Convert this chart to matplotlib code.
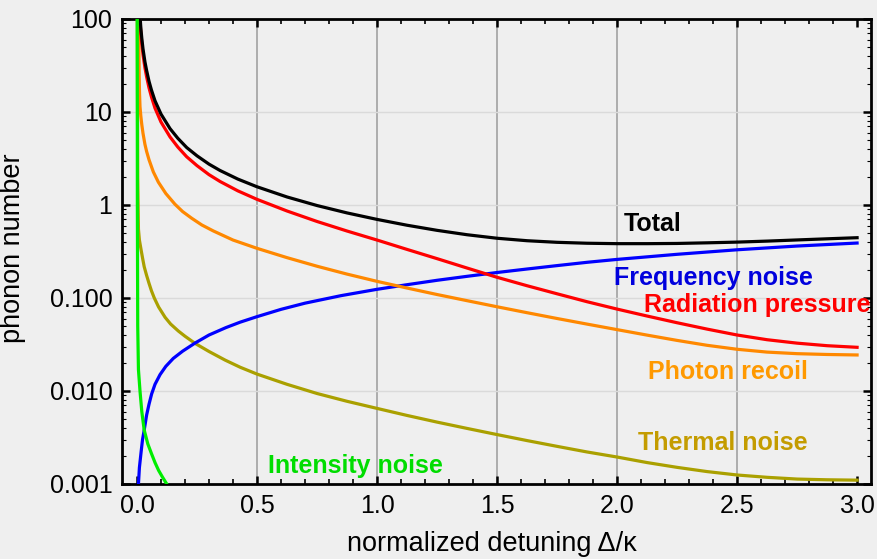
import numpy as np
import matplotlib
matplotlib.use('Agg')
import matplotlib.pyplot as plt
from matplotlib.ticker import FixedLocator, FixedFormatter, MultipleLocator, LogLocator, NullFormatter

plt.rcParams['font.family'] = ['Liberation Sans', 'DejaVu Sans']

# values (log y axis), x = detuning
x_total = [0.012, 0.0135, 0.016, 0.02, 0.025, 0.033, 0.04, 0.05, 0.06, 0.075, 0.1, 0.1375, 0.17,
           0.207, 0.25, 0.3, 0.346, 0.42, 0.5, 0.625, 0.75, 0.875, 1.0, 1.125, 1.25, 1.375, 1.5,
           1.625, 1.75, 1.875, 2.0, 2.125, 2.25, 2.375, 2.5, 2.625, 2.75, 2.875, 3.0]
y_total = [110, 100, 80, 62, 47.7, 34.7, 28, 21.4, 17.3, 13.2, 9.5, 6.63, 5.22,
           4.15, 3.38, 2.75, 2.35, 1.90, 1.57, 1.22, 0.987, 0.822, 0.70, 0.606, 0.534, 0.479, 0.439,
           0.413, 0.397, 0.388, 0.384, 0.384, 0.386, 0.392, 0.399, 0.409, 0.421, 0.433, 0.445]

x_radiation = [0.011, 0.0125, 0.016, 0.02, 0.025, 0.033, 0.04, 0.05, 0.06, 0.075, 0.1, 0.1375,
               0.17, 0.207, 0.25, 0.3, 0.346, 0.42, 0.5, 0.625, 0.75, 0.875, 1.0, 1.125, 1.25,
               1.375, 1.5, 1.625, 1.75, 1.875, 2.0, 2.125, 2.25, 2.375, 2.5, 2.625, 2.75, 2.875, 3.0]
y_radiation = [112, 96, 71, 54, 41.5, 30, 24, 18.2, 14.6, 11, 7.8, 5.4,
               4.2, 3.3, 2.65, 2.12, 1.79, 1.42, 1.15, 0.862, 0.665, 0.525, 0.42, 0.333, 0.265,
               0.210, 0.167, 0.1355, 0.111, 0.0912, 0.076, 0.064, 0.0542, 0.0463, 0.040, 0.0356,
               0.0327, 0.0307, 0.0295]

x_recoil = [0.006, 0.007, 0.008, 0.009, 0.0105, 0.0125, 0.016, 0.02, 0.025, 0.033, 0.04, 0.05,
            0.068, 0.089, 0.12, 0.158, 0.19, 0.228, 0.27, 0.318, 0.4, 0.5, 0.625, 0.75, 0.875,
            1.0, 1.125, 1.25, 1.375, 1.5, 1.625, 1.75, 1.875, 2.0, 2.125, 2.25, 2.375, 2.5,
            2.625, 2.75, 2.875, 3.0]
y_recoil = [130, 100, 45, 25, 16, 11.4, 9.0, 7.3, 5.9, 4.5, 3.77, 3.07,
            2.27, 1.76, 1.33, 1.02, 0.85, 0.72, 0.61, 0.526, 0.42, 0.342, 0.2716, 0.2196, 0.1807,
            0.151, 0.128, 0.109, 0.0936, 0.0805, 0.0695, 0.0602, 0.0524, 0.0457, 0.0399, 0.035,
            0.031, 0.0281, 0.0262, 0.0252, 0.0247, 0.0244]

x_frequency = [0.005, 0.006, 0.01, 0.017, 0.023, 0.030, 0.04, 0.05, 0.061, 0.075, 0.096, 0.12,
               0.151, 0.19, 0.242, 0.3, 0.37, 0.43, 0.5, 0.6, 0.7, 0.85, 1.0, 1.125, 1.25,
               1.375, 1.5, 1.625, 1.75, 1.875, 2.0, 2.25, 2.5, 2.75, 3.0]
y_frequency = [0.0008, 0.001, 0.0015, 0.0022, 0.003, 0.0038, 0.0055, 0.0072, 0.0093, 0.0118, 0.0150, 0.0184,
               0.0224, 0.0268, 0.0328, 0.040, 0.048, 0.055, 0.063, 0.0755, 0.088, 0.106, 0.124, 0.139, 0.155,
               0.171, 0.188, 0.205, 0.223, 0.242, 0.26, 0.295, 0.33, 0.362, 0.39]

x_thermal = [0.001, 0.003, 0.006, 0.01, 0.017, 0.023, 0.030, 0.04, 0.050, 0.06, 0.072, 0.09,
             0.117, 0.14, 0.172, 0.2, 0.242, 0.3, 0.367, 0.43, 0.5, 0.625, 0.75, 0.875, 1.0,
             1.125, 1.25, 1.375, 1.5, 1.625, 1.75, 1.875, 2.0, 2.125, 2.25, 2.375, 2.5, 2.625,
             2.75, 2.875, 3.0]
y_thermal = [130, 2.0, 0.55, 0.42, 0.33, 0.27, 0.217, 0.175, 0.144, 0.12, 0.1, 0.08,
             0.062, 0.0525, 0.0442, 0.0388, 0.0325, 0.0266, 0.0215, 0.018, 0.0152, 0.0118, 0.0094,
             0.00775, 0.0065, 0.00546, 0.00463, 0.00396, 0.0034, 0.00293, 0.00254, 0.00221, 0.00195,
             0.0017, 0.00151, 0.00136, 0.00125, 0.00118, 0.00113, 0.00111, 0.0011]

x_intensity = [0.001, 0.0015, 0.003, 0.006, 0.0125, 0.02, 0.030, 0.045, 0.061, 0.075, 0.09, 0.105, 0.124, 0.14]
y_intensity = [130, 1.0, 0.05, 0.017, 0.01, 0.006, 0.0038, 0.0027, 0.0021, 0.0017, 0.0014, 0.0012, 0.001, 0.0008]

y_ticks = [0.001, 0.01, 0.1, 1, 10, 100]
y_ticklabels = ['0.001', '0.010', '0.100', '1', '10', '100']
x_ticks = [0.0, 0.5, 1.0, 1.5, 2.0, 2.5, 3.0]
x_ticklabels = ['0.0', '0.5', '1.0', '1.5', '2.0', '2.5', '3.0']

bg = '#efefef'
fig = plt.figure(figsize=(8.77, 5.59), dpi=100, facecolor=bg)
ax = fig.add_axes([122 / 877, 1 - 484 / 559, 749 / 877, 465 / 559])
ax.set_facecolor(bg)

ax.set_yscale('log')
ax.set_xlim(-0.0625, 3.058)
ax.set_ylim(0.001, 100)

# grid
for v in [0.5, 1.0, 1.5, 2.0, 2.5]:
    ax.axvline(v, color='#a8a8a8', lw=1.3, zorder=1)
for v in [0.01, 0.1, 1, 10]:
    ax.axhline(v, color='#dadada', lw=1.0, zorder=1)

lw = 2.3
ax.plot(x_thermal, y_thermal, color='#aaa000', lw=lw, zorder=3)
ax.plot(x_intensity, y_intensity, color='#00ee00', lw=lw, zorder=4)
ax.plot(x_frequency, y_frequency, color='#0000ff', lw=lw, zorder=3)
ax.plot(x_recoil, y_recoil, color='#ff8800', lw=lw, zorder=3)
ax.plot(x_radiation, y_radiation, color='#ff0000', lw=lw, zorder=3)
ax.plot(x_total, y_total, color='black', lw=lw, zorder=3)

fs = 18
ax.text(2.15, 0.625, 'Total', color='black', fontsize=fs, fontweight='bold', ha='center', va='center')
ax.text(2.40, 0.164, 'Frequency noise', color='#0000dd', fontsize=fs, fontweight='bold', ha='center', va='center')
ax.text(3.058, 0.084, 'Radiation pressure', color='#ff0000', fontsize=fs, fontweight='bold', ha='right', va='center')
ax.text(2.46, 0.016, 'Photon recoil', color='#ff9900', fontsize=fs, fontweight='bold', ha='center', va='center')
ax.text(2.44, 0.00276, 'Thermal noise', color='#c49c00', fontsize=fs, fontweight='bold', ha='center', va='center')
ax.text(0.908, 0.00156, 'Intensity noise', color='#00dd00', fontsize=fs, fontweight='bold', ha='center', va='center')

# axes styling
for s in ax.spines.values():
    s.set_linewidth(2.0)
    s.set_color('black')

ax.yaxis.set_major_locator(FixedLocator(y_ticks))
ax.yaxis.set_major_formatter(FixedFormatter(y_ticklabels))
ax.yaxis.set_minor_locator(LogLocator(base=10, subs=np.arange(2, 10)))
ax.yaxis.set_minor_formatter(NullFormatter())
ax.xaxis.set_major_locator(FixedLocator(x_ticks))
ax.xaxis.set_major_formatter(FixedFormatter(x_ticklabels))
ax.xaxis.set_minor_locator(MultipleLocator(0.1))

ax.tick_params(which='both', direction='in', top=True, right=True, labelsize=18, colors='black')
ax.tick_params(which='major', length=6, width=1.8, pad=7)
ax.tick_params(which='minor', length=3.5, width=1.2)
ax.tick_params(axis='y', which='minor', length=3, width=0.8)

ax.set_xlabel('normalized detuning Δ/κ', fontsize=19.5)
ax.set_ylabel('phonon number', fontsize=19.5)
ax.xaxis.set_label_coords(0.494, -0.102)
ax.yaxis.set_label_coords(-0.128, 0.507)

fig.savefig('out.png', dpi=100, facecolor=bg)
